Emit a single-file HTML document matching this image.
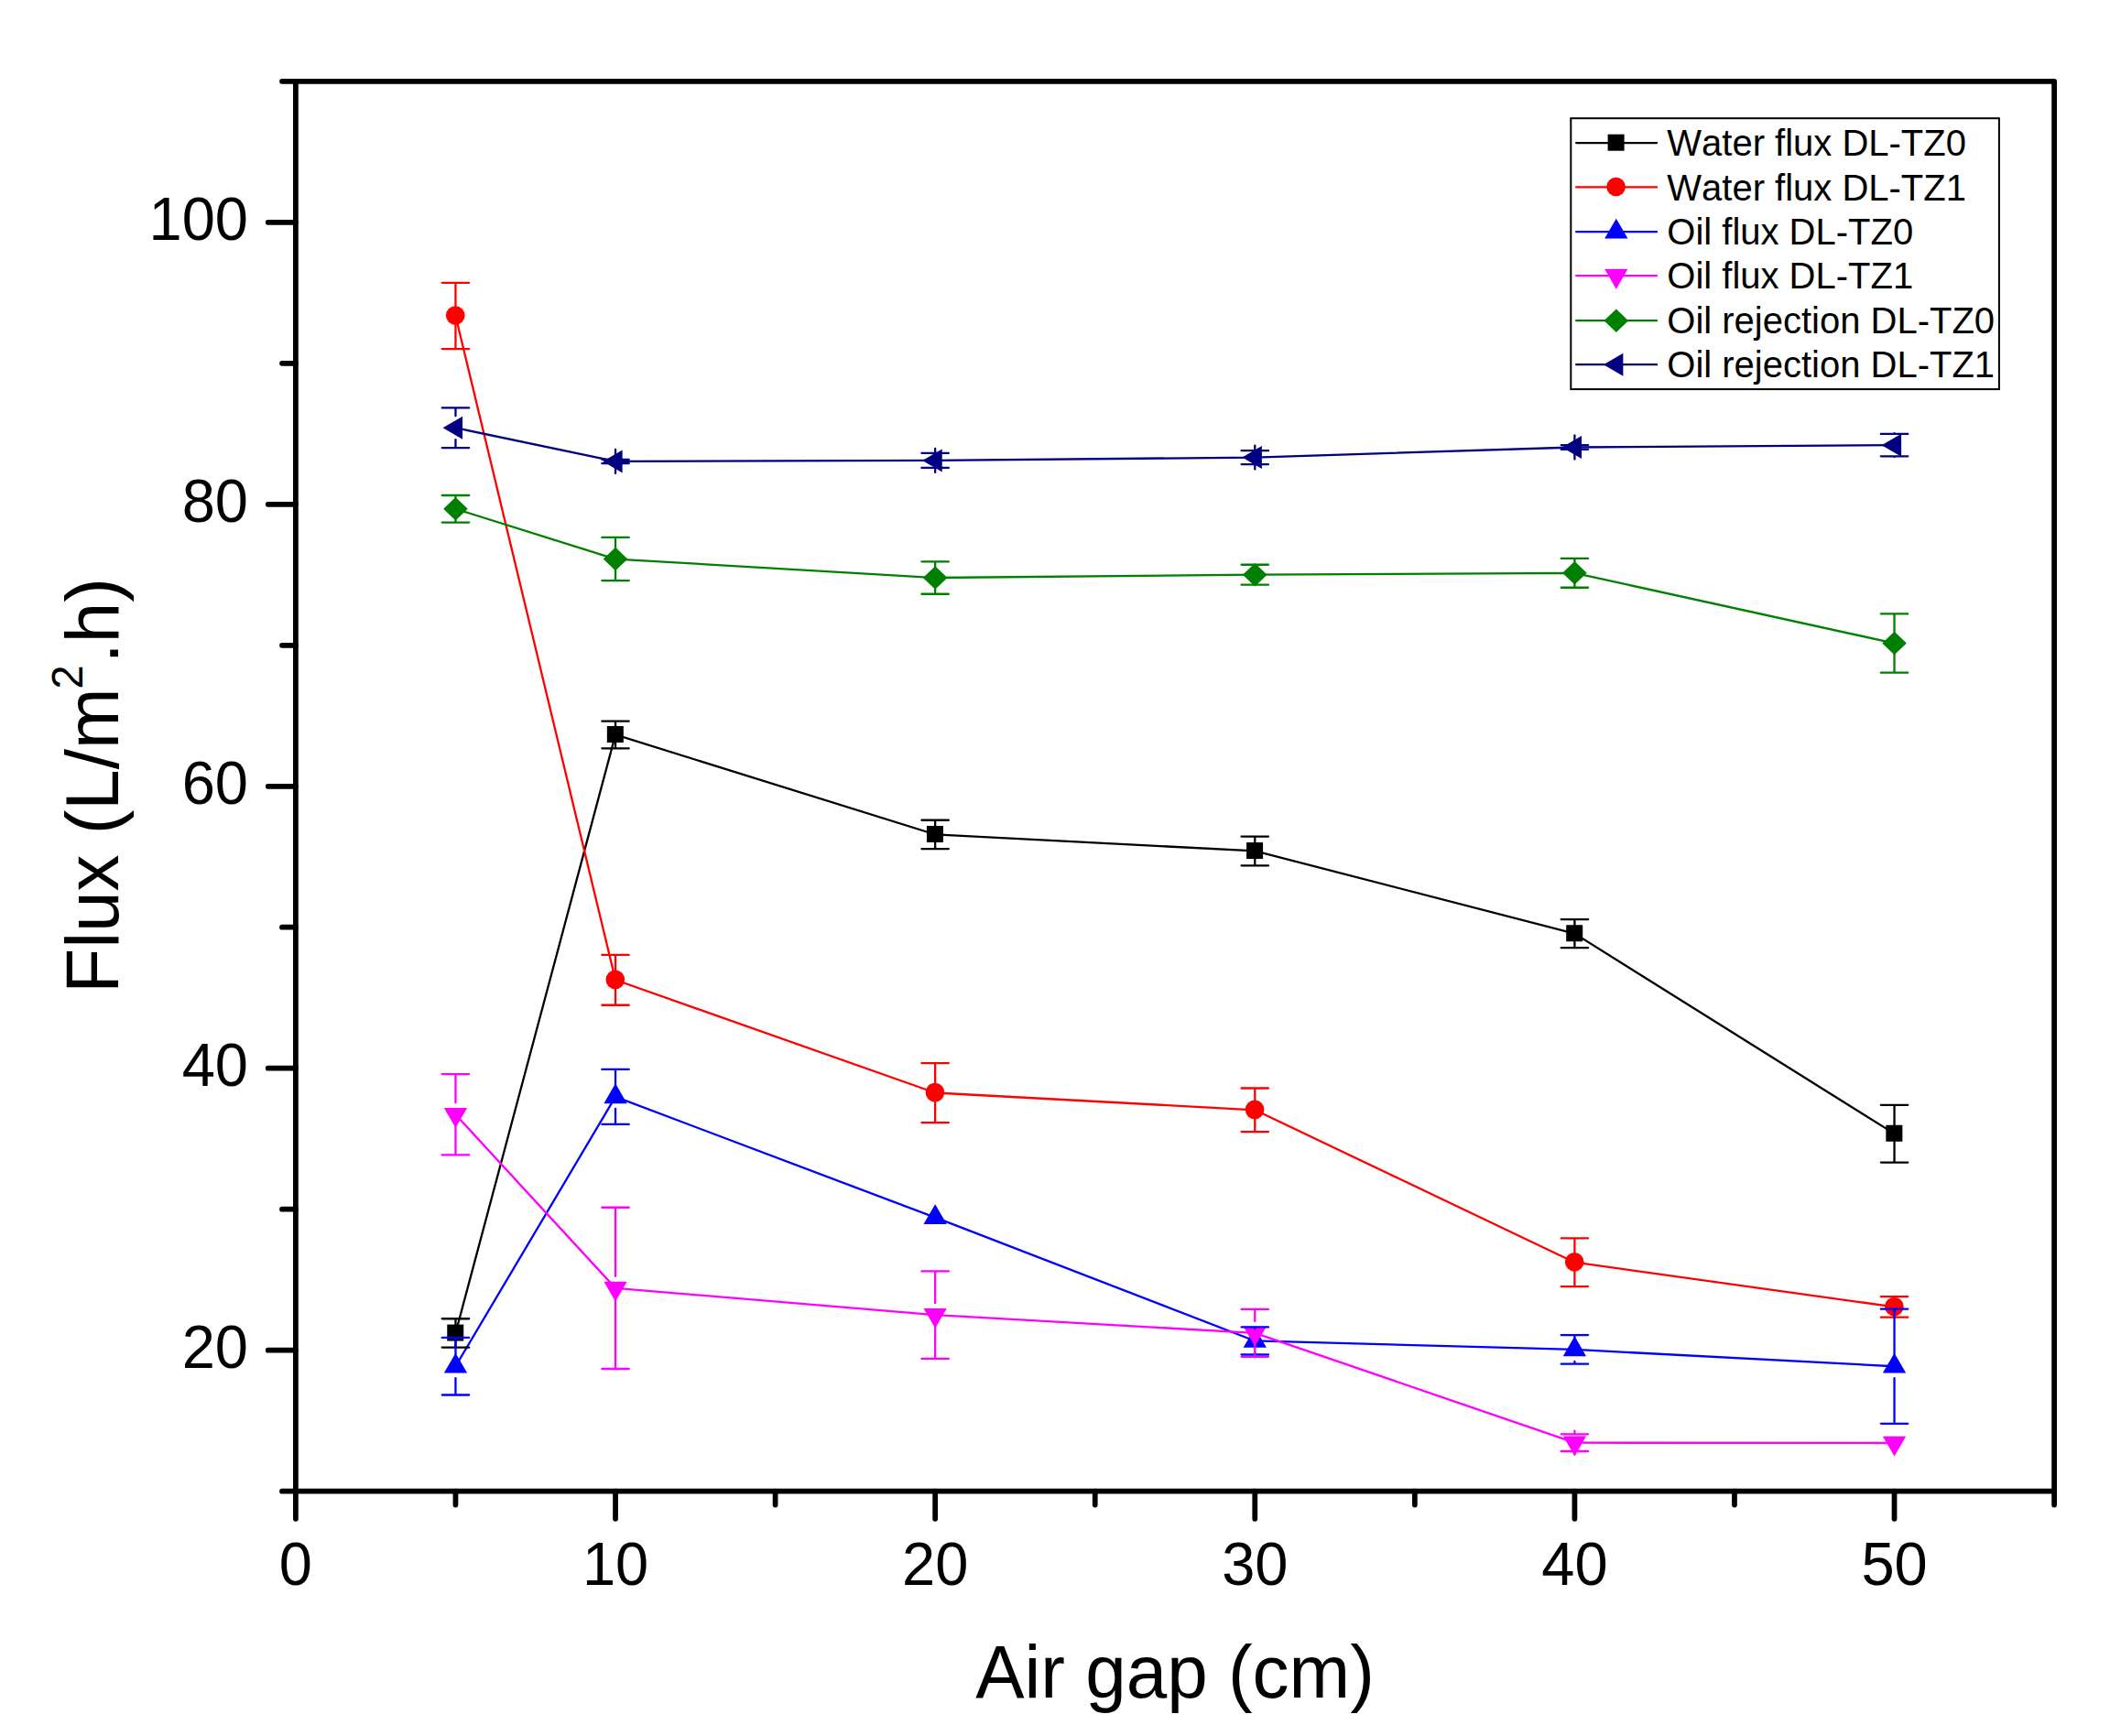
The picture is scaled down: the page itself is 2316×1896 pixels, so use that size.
<!DOCTYPE html>
<html lang="en"><head><meta charset="utf-8"><title>Flux vs Air gap</title>
<style>
html,body{margin:0;padding:0;background:#fff;}
body{width:2316px;height:1896px;overflow:hidden;}
svg{display:block;}
text{font-family:"Liberation Sans",Arial,Helvetica,sans-serif;fill:#000;font-kerning:none;}
.tick{font-size:65px;}
.title{font-size:80px;}
.leg{font-size:40px;}
</style></head><body>
<svg width="2316" height="1896" viewBox="0 0 2316 1896">
<rect x="0" y="0" width="2316" height="1896" fill="#ffffff"/>

<path d="M497.46,1455.98 L672.03,802.40 L1021.15,911.40 L1370.28,929.45 L1719.41,1019.65 L2068.54,1238.15" stroke="#000000" stroke-width="2.3" stroke-linecap="round" stroke-linejoin="round" fill="none"/>
<g><rect x="488.26" y="1446.58" width="18.00" height="18.00" fill="#000000"/><rect x="662.83" y="793.00" width="18.00" height="18.00" fill="#000000"/><rect x="1011.95" y="902.00" width="18.00" height="18.00" fill="#000000"/><rect x="1361.08" y="920.05" width="18.00" height="18.00" fill="#000000"/><rect x="1710.21" y="1010.25" width="18.00" height="18.00" fill="#000000"/><rect x="2059.34" y="1228.75" width="18.00" height="18.00" fill="#000000"/></g>
<path d="M497.46,344.95 L672.03,1070.28 L1021.15,1193.50 L1370.28,1212.28 L1719.41,1378.68 L2068.54,1427.38" stroke="#ff0000" stroke-width="2.3" stroke-linecap="round" stroke-linejoin="round" fill="none"/>
<g><circle cx="497.26" cy="344.55" r="10.35" fill="#ff0000"/><circle cx="671.83" cy="1069.88" r="10.35" fill="#ff0000"/><circle cx="1020.95" cy="1193.10" r="10.35" fill="#ff0000"/><circle cx="1370.08" cy="1211.88" r="10.35" fill="#ff0000"/><circle cx="1719.21" cy="1378.28" r="10.35" fill="#ff0000"/><circle cx="2068.34" cy="1426.98" r="10.35" fill="#ff0000"/></g>
<path d="M497.46,1492.20 L672.03,1197.90 L1021.15,1329.70 L1370.28,1464.45 L1719.41,1473.90 L2068.54,1492.25" stroke="#0000ff" stroke-width="2.3" stroke-linecap="round" stroke-linejoin="round" fill="none"/>
<g><polygon points="497.46,1477.65 510.11,1499.47 484.81,1499.47" fill="#0000ff"/><polygon points="672.03,1183.35 684.68,1205.17 659.38,1205.17" fill="#0000ff"/><polygon points="1021.15,1315.15 1033.80,1336.97 1008.50,1336.97" fill="#0000ff"/><polygon points="1370.28,1449.90 1382.93,1471.72 1357.63,1471.72" fill="#0000ff"/><polygon points="1719.41,1459.35 1732.06,1481.17 1706.76,1481.17" fill="#0000ff"/><polygon points="2068.54,1477.70 2081.19,1499.52 2055.89,1499.52" fill="#0000ff"/></g>
<path d="M497.46,1217.27 L672.03,1406.90 L1021.15,1436.18 L1370.28,1455.90 L1719.41,1575.68 L2068.54,1576.00" stroke="#ff00ff" stroke-width="2.3" stroke-linecap="round" stroke-linejoin="round" fill="none"/>
<g><polygon points="497.46,1231.82 510.11,1210.00 484.81,1210.00" fill="#ff00ff"/><polygon points="672.03,1421.45 684.68,1399.63 659.38,1399.63" fill="#ff00ff"/><polygon points="1021.15,1450.73 1033.80,1428.91 1008.50,1428.91" fill="#ff00ff"/><polygon points="1370.28,1470.45 1382.93,1448.63 1357.63,1448.63" fill="#ff00ff"/><polygon points="1719.41,1590.23 1732.06,1568.41 1706.76,1568.41" fill="#ff00ff"/><polygon points="2068.54,1590.55 2081.19,1568.73 2055.89,1568.73" fill="#ff00ff"/></g>
<path d="M497.46,555.80 L672.03,610.55 L1021.15,631.00 L1370.28,627.70 L1719.41,625.82 L2068.54,702.57" stroke="#008000" stroke-width="2.3" stroke-linecap="round" stroke-linejoin="round" fill="none"/>
<g><polygon points="497.46,543.00 510.76,555.80 497.46,568.60 484.16,555.80" fill="#008000"/><polygon points="672.03,597.75 685.33,610.55 672.03,623.35 658.73,610.55" fill="#008000"/><polygon points="1021.15,618.20 1034.45,631.00 1021.15,643.80 1007.85,631.00" fill="#008000"/><polygon points="1370.28,614.90 1383.58,627.70 1370.28,640.50 1356.98,627.70" fill="#008000"/><polygon points="1719.41,613.02 1732.71,625.82 1719.41,638.62 1706.11,625.82" fill="#008000"/><polygon points="2068.54,689.77 2081.84,702.57 2068.54,715.37 2055.24,702.57" fill="#008000"/></g>
<path d="M497.46,467.25 L672.03,503.90 L1021.15,502.88 L1370.28,499.60 L1719.41,488.50 L2068.54,486.16" stroke="#000080" stroke-width="2.3" stroke-linecap="round" stroke-linejoin="round" fill="none"/>
<g><polygon points="483.56,467.25 505.06,454.75 505.06,479.75" fill="#000080"/><polygon points="658.13,503.90 679.63,491.40 679.63,516.40" fill="#000080"/><polygon points="1007.25,502.88 1028.75,490.38 1028.75,515.38" fill="#000080"/><polygon points="1356.38,499.60 1377.88,487.10 1377.88,512.10" fill="#000080"/><polygon points="1705.51,488.50 1727.01,476.00 1727.01,501.00" fill="#000080"/><polygon points="2054.64,486.16 2076.14,473.66 2076.14,498.66" fill="#000080"/></g>
<g stroke="#000000" stroke-width="2.3" stroke-linecap="round" fill="none">
<path d="M497.46,1440.25V1447.98M497.46,1463.98V1471.70M482.76,1440.25H512.16M482.76,1471.70H512.16"/>
<path d="M672.03,787.58V794.40M672.03,810.40V817.28M657.33,787.58H686.73M657.33,817.28H686.73"/>
<path d="M1021.15,895.74V903.40M1021.15,919.40V927.03M1006.45,895.74H1035.85M1006.45,927.03H1035.85"/>
<path d="M1370.28,913.59V921.45M1370.28,937.45V945.33M1355.58,913.59H1384.98M1355.58,945.33H1384.98"/>
<path d="M1719.41,1004.16V1011.65M1719.41,1027.65V1035.16M1704.71,1004.16H1734.11M1704.71,1035.16H1734.11"/>
<path d="M2068.54,1206.80V1230.15M2068.54,1246.15V1269.53M2053.84,1206.80H2083.24M2053.84,1269.53H2083.24"/>
</g>
<g stroke="#ff0000" stroke-width="2.3" stroke-linecap="round" fill="none">
<path d="M497.46,308.80V336.95M497.46,352.95V381.10M482.76,308.80H512.16M482.76,381.10H512.16"/>
<path d="M672.03,1042.80V1062.28M672.03,1078.28V1097.74M657.33,1042.80H686.73M657.33,1097.74H686.73"/>
<path d="M1021.15,1161.04V1185.50M1021.15,1201.50V1226.04M1006.45,1161.04H1035.85M1006.45,1226.04H1035.85"/>
<path d="M1370.28,1188.52V1204.28M1370.28,1220.28V1236.05M1355.58,1188.52H1384.98M1355.58,1236.05H1384.98"/>
<path d="M1719.41,1352.30V1370.68M1719.41,1386.68V1405.07M1704.71,1352.30H1734.11M1704.71,1405.07H1734.11"/>
<path d="M2068.54,1416.10V1419.38M2068.54,1435.38V1438.66M2053.84,1416.10H2083.24M2053.84,1438.66H2083.24"/>
</g>
<g stroke="#0000ff" stroke-width="2.3" stroke-linecap="round" fill="none">
<path d="M497.46,1460.90V1479.20M497.46,1505.20V1523.50M482.76,1460.90H512.16M482.76,1523.50H512.16"/>
<path d="M672.03,1167.90V1184.90M672.03,1210.90V1227.90M657.33,1167.90H686.73M657.33,1227.90H686.73"/>
<path d="M1370.28,1449.43V1451.45M1370.28,1477.45V1479.48M1355.58,1449.43H1384.98M1355.58,1479.48H1384.98"/>
<path d="M1719.41,1458.12V1460.90M1719.41,1486.90V1489.67M1704.71,1458.12H1734.11M1704.71,1489.67H1734.11"/>
<path d="M2068.54,1429.66V1479.25M2068.54,1505.25V1554.85M2053.84,1429.66H2083.24M2053.84,1554.85H2083.24"/>
</g>
<g stroke="#ff00ff" stroke-width="2.3" stroke-linecap="round" fill="none">
<path d="M497.46,1173.07V1204.27M497.46,1230.27V1261.46M482.76,1173.07H512.16M482.76,1261.46H512.16"/>
<path d="M672.03,1318.75V1393.90M672.03,1419.90V1495.00M657.33,1318.75H686.73M657.33,1495.00H686.73"/>
<path d="M1021.15,1388.46V1423.18M1021.15,1449.18V1483.90M1006.45,1388.46H1035.85M1006.45,1483.90H1035.85"/>
<path d="M1370.28,1429.97V1442.90M1370.28,1468.90V1481.85M1355.58,1429.97H1384.98M1355.58,1481.85H1384.98"/>
<path d="M1719.41,1566.37V1562.68M1719.41,1588.68V1584.98M1704.71,1566.37H1734.11M1704.71,1584.98H1734.11"/>
</g>
<g stroke="#008000" stroke-width="2.3" stroke-linecap="round" fill="none">
<path d="M497.46,541.00V547.80M497.46,563.80V570.60M482.76,541.00H512.16M482.76,570.60H512.16"/>
<path d="M672.03,586.90V602.55M672.03,618.55V634.20M657.33,586.90H686.73M657.33,634.20H686.73"/>
<path d="M1021.15,613.31V623.00M1021.15,639.00V648.73M1006.45,613.31H1035.85M1006.45,648.73H1035.85"/>
<path d="M1370.28,616.76V619.70M1370.28,635.70V638.66M1355.58,616.76H1384.98M1355.58,638.66H1384.98"/>
<path d="M1719.41,609.89V617.82M1719.41,633.82V641.75M1704.71,609.89H1734.11M1704.71,641.75H1734.11"/>
<path d="M2068.54,670.45V694.57M2068.54,710.57V734.69M2053.84,670.45H2083.24M2053.84,734.69H2083.24"/>
</g>
<g stroke="#000080" stroke-width="2.3" stroke-linecap="round" fill="none">
<path d="M497.46,445.40V454.25M497.46,480.25V489.10M482.76,445.40H512.16M482.76,489.10H512.16"/>
<path d="M672.03,501.80V490.90M672.03,516.90V506.20M657.33,501.80H686.73M657.33,506.20H686.73"/>
<path d="M1021.15,494.85V489.88M1021.15,515.88V510.90M1006.45,494.85H1035.85M1006.45,510.90H1035.85"/>
<path d="M1370.28,492.14V486.60M1370.28,512.60V507.07M1355.58,492.14H1384.98M1355.58,507.07H1384.98"/>
<path d="M1719.41,486.10V475.50M1719.41,501.50V490.85M1704.71,486.10H1734.11M1704.71,490.85H1734.11"/>
<path d="M2068.54,473.97V473.16M2068.54,499.16V498.35M2053.84,473.97H2083.24M2053.84,498.35H2083.24"/>
</g>
<g stroke="#000" stroke-width="5.75" stroke-linecap="round" fill="none">
<path d="M322.9,88.85H2243.1V1628.66H322.9Z" stroke-linejoin="round"/>
<path d="M322.9,1628.66h-14.9"/>
<path d="M322.9,1474.68h-30.2"/>
<path d="M322.9,1320.70h-14.9"/>
<path d="M322.9,1166.72h-30.2"/>
<path d="M322.9,1012.74h-14.9"/>
<path d="M322.9,858.75h-30.2"/>
<path d="M322.9,704.77h-14.9"/>
<path d="M322.9,550.79h-30.2"/>
<path d="M322.9,396.81h-14.9"/>
<path d="M322.9,242.83h-30.2"/>
<path d="M322.9,88.85h-14.9"/>
<path d="M322.90,1628.66v30.2"/>
<path d="M497.46,1628.66v14.9"/>
<path d="M672.03,1628.66v30.2"/>
<path d="M846.59,1628.66v14.9"/>
<path d="M1021.15,1628.66v30.2"/>
<path d="M1195.72,1628.66v14.9"/>
<path d="M1370.28,1628.66v30.2"/>
<path d="M1544.85,1628.66v14.9"/>
<path d="M1719.41,1628.66v30.2"/>
<path d="M1893.97,1628.66v14.9"/>
<path d="M2068.54,1628.66v30.2"/>
<path d="M2243.10,1628.66v14.9"/>
</g>
<text class="tick" transform="translate(271.00,1493.98) scale(1,1.03)" text-anchor="end">20</text>
<text class="tick" transform="translate(271.00,1186.02) scale(1,1.03)" text-anchor="end">40</text>
<text class="tick" transform="translate(271.00,878.05) scale(1,1.03)" text-anchor="end">60</text>
<text class="tick" transform="translate(271.00,570.09) scale(1,1.03)" text-anchor="end">80</text>
<text class="tick" transform="translate(271.00,262.13) scale(1,1.03)" text-anchor="end">100</text>
<text class="tick" transform="translate(322.90,1731.30) scale(1,1.03)" text-anchor="middle">0</text>
<text class="tick" transform="translate(672.03,1731.30) scale(1,1.03)" text-anchor="middle">10</text>
<text class="tick" transform="translate(1021.15,1731.30) scale(1,1.03)" text-anchor="middle">20</text>
<text class="tick" transform="translate(1370.28,1731.30) scale(1,1.03)" text-anchor="middle">30</text>
<text class="tick" transform="translate(1719.41,1731.30) scale(1,1.03)" text-anchor="middle">40</text>
<text class="tick" transform="translate(2068.54,1731.30) scale(1,1.03)" text-anchor="middle">50</text>
<text class="title" transform="translate(1283.00,1853.80) scale(1,1.02)" text-anchor="middle">Air gap (cm)</text>
<text class="title" transform="translate(129.00,857.90) rotate(-90) scale(1,1.02)" text-anchor="middle">Flux (L/m<tspan font-size="47" dx="-1.2" dy="-37.9">2</tspan><tspan dx="2" dy="37.9">.h)</tspan></text>
<rect x="1715.3" y="129.2" width="467.6" height="295.9" fill="#fff" stroke="#000" stroke-width="2"/>
<path d="M1721.2,156.1H1809" stroke="#000000" stroke-width="2.3" stroke-linecap="round"/>
<rect x="1755.60" y="146.70" width="18.00" height="18.00" fill="#000000"/>
<text class="leg" transform="translate(1820.30,170.30) scale(1,1.02)" text-anchor="start">Water flux DL-TZ0</text>
<path d="M1721.2,204.4H1809" stroke="#ff0000" stroke-width="2.3" stroke-linecap="round"/>
<circle cx="1764.60" cy="204.00" r="10.35" fill="#ff0000"/>
<text class="leg" transform="translate(1820.30,218.60) scale(1,1.02)" text-anchor="start">Water flux DL-TZ1</text>
<path d="M1721.2,253.2H1809" stroke="#0000ff" stroke-width="2.3" stroke-linecap="round"/>
<polygon points="1764.80,238.65 1777.45,260.47 1752.15,260.47" fill="#0000ff"/>
<text class="leg" transform="translate(1820.30,267.40) scale(1,1.02)" text-anchor="start">Oil flux DL-TZ0</text>
<path d="M1721.2,301.1H1809" stroke="#ff00ff" stroke-width="2.3" stroke-linecap="round"/>
<polygon points="1764.80,315.65 1777.45,293.83 1752.15,293.83" fill="#ff00ff"/>
<text class="leg" transform="translate(1820.30,315.30) scale(1,1.02)" text-anchor="start">Oil flux DL-TZ1</text>
<path d="M1721.2,350.2H1809" stroke="#008000" stroke-width="2.3" stroke-linecap="round"/>
<polygon points="1764.80,337.40 1778.10,350.20 1764.80,363.00 1751.50,350.20" fill="#008000"/>
<text class="leg" transform="translate(1820.30,364.40) scale(1,1.02)" text-anchor="start">Oil rejection DL-TZ0</text>
<path d="M1721.2,398.2H1809" stroke="#000080" stroke-width="2.3" stroke-linecap="round"/>
<polygon points="1750.90,398.20 1772.40,385.70 1772.40,410.70" fill="#000080"/>
<text class="leg" transform="translate(1820.30,412.40) scale(1,1.02)" text-anchor="start">Oil rejection DL-TZ1</text>
</svg></body></html>
